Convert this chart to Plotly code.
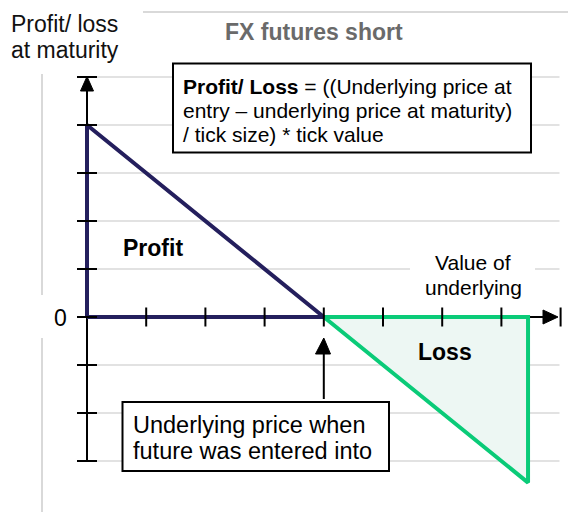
import plotly.graph_objects as go

# ---------------- data ----------------
underlying_ticks = [1, 2, 3, 4, 5, 6, 7, 8]
pl_ticks = [-3, -2, -1, 0, 1, 2, 3, 4, 5]
grid_levels = [-3, -2, -1, 1, 2, 3, 4, 5]
entry_price = 4
profit_x = [0, 0, 4, 0]
profit_y = [0, 4, 0, 0]
loss_x = [4, 7.45, 7.45, 4]
loss_y = [0, 0, -3.45, 0]
y_axis_min = -3

title_text = "FX futures short"
ylabel_lines = ["Profit/ loss", "at maturity"]
formula_lines = ["<b>Profit/ Loss</b> = ((Underlying price at",
                 "entry \u2013 underlying price at maturity)",
                 "/ tick size) * tick value"]
entry_lines = ["Underlying price when", "future was entered into"]
xlabel_lines = ["Value of", "underlying"]

# ---------------- layout helpers ----------------
W, H = 568, 512
X0_PX, Y0_PX = 87, 317
SX, SY = 59.2, 48.0


def dx(px):
    return (px - X0_PX) / SX


def dy(py):
    return (Y0_PX - py) / SY


FONT = "Liberation Sans, Arial, sans-serif"
NAVY = "#241F5D"
GREEN = "#0ACB78"
FILL = "#EDF7F3"
GRID = "#D9D9D9"

fig = go.Figure()

# gridlines
gx, gy = [], []
for g in grid_levels:
    gx += [dx(97), dx(559.5), None]
    gy += [g, g, None]
fig.add_trace(go.Scatter(x=gx, y=gy, mode="lines", line=dict(color=GRID, width=1.5),
                         hoverinfo="skip", showlegend=False))

# axis lines
fig.add_trace(go.Scatter(x=[0, 0], y=[y_axis_min, dy(80)], mode="lines",
                         line=dict(color="black", width=2), hoverinfo="skip", showlegend=False))
fig.add_trace(go.Scatter(x=[0, dx(548)], y=[0, 0], mode="lines",
                         line=dict(color="black", width=2), hoverinfo="skip", showlegend=False))

# loss area and profit outline
fig.add_trace(go.Scatter(x=loss_x, y=loss_y, mode="lines", fill="toself", fillcolor=FILL,
                         line=dict(color=GREEN, width=4), hoverinfo="skip", showlegend=False))
fig.add_trace(go.Scatter(x=profit_x, y=profit_y, mode="lines",
                         line=dict(color=NAVY, width=4), hoverinfo="skip", showlegend=False))

# ticks
tx, ty = [], []
for t in pl_ticks:
    tx += [dx(77), dx(97), None]
    ty += [t, t, None]
for t in underlying_ticks:
    tx += [t, t, None]
    ty += [dy(307.5), dy(326.5), None]
fig.add_trace(go.Scatter(x=tx, y=ty, mode="lines", line=dict(color="black", width=2),
                         hoverinfo="skip", showlegend=False))

# entry price arrow shaft
fig.add_trace(go.Scatter(x=[entry_price, entry_price], y=[dy(399), dy(352)], mode="lines",
                         line=dict(color="black", width=2), hoverinfo="skip", showlegend=False))

shapes = []


def tri(p1, p2, p3):
    return dict(type="path", xref="x", yref="y",
                path=f"M {p1[0]},{p1[1]} L {p2[0]},{p2[1]} L {p3[0]},{p3[1]} Z",
                fillcolor="black", line=dict(color="black", width=1), layer="above")


# arrow heads
shapes.append(tri((0, dy(76.5)), (dx(80.5), dy(91)), (dx(93.5), dy(91))))
shapes.append(tri((dx(558), 0), (dx(543), dy(310)), (dx(543), dy(324))))
shapes.append(tri((entry_price, dy(338)), (dx(315.5), dy(354)), (dx(330.5), dy(354))))

# boxes
shapes.append(dict(type="rect", xref="x", yref="y", x0=dx(173), x1=dx(531), y0=dy(63.5), y1=dy(152.5),
                   line=dict(color="black", width=2), fillcolor="white", layer="above"))
shapes.append(dict(type="rect", xref="x", yref="y", x0=dx(122.5), x1=dx(389), y0=dy(402), y1=dy(471),
                   line=dict(color="black", width=2), fillcolor="white", layer="above"))
# white patch behind "Value of underlying"
shapes.append(dict(type="rect", xref="x", yref="y", x0=dx(410), x1=dx(535), y0=dy(262), y1=dy(276),
                   line=dict(width=0), fillcolor="white", layer="above"))

# outer frame lines
shapes.append(dict(type="line", xref="paper", yref="paper", x0=143 / W, x1=1, y0=1 - 12 / H, y1=1 - 12 / H,
                   line=dict(color=GRID, width=2)))
shapes.append(dict(type="line", xref="paper", yref="paper", x0=42 / W, x1=42 / W, y0=1 - 74 / H, y1=1 - 295 / H,
                   line=dict(color=GRID, width=2)))
shapes.append(dict(type="line", xref="paper", yref="paper", x0=42 / W, x1=42 / W, y0=1 - 338 / H, y1=0,
                   line=dict(color=GRID, width=2)))

ann = []


def label(text, xpx, ypx, size, xanchor="center", bold=False, color="black"):
    ann.append(dict(text=f"<b>{text}</b>" if bold else text, x=dx(xpx), y=dy(ypx), xref="x", yref="y",
                    xanchor=xanchor, yanchor="middle", showarrow=False, borderpad=0,
                    font=dict(family=FONT, size=size, color=color)))


label(title_text, 313.5, 31.7, 23, bold=True, color="#6A6A6A")
label(ylabel_lines[0], 10, 24, 23, xanchor="left", color="#111")
label(ylabel_lines[1], 10, 50, 23, xanchor="left", color="#111")
for i, line in enumerate(formula_lines):
    label(line, 182, 86 + 24 * i, 21, xanchor="left")
for i, line in enumerate(entry_lines):
    label(line, 131.5, 425 + 26 * i, 23.5, xanchor="left")
label(xlabel_lines[0], 473, 262.5, 21)
label(xlabel_lines[1], 473, 287.5, 21)
label("0", 60, 317.5, 23)
label("Profit", 153, 247.5, 23, bold=True)
label("Loss", 445, 351.5, 23, bold=True)

fig.update_layout(
    width=W, height=H, autosize=False,
    margin=dict(l=0, r=0, t=0, b=0, pad=0),
    paper_bgcolor="white", plot_bgcolor="white",
    xaxis=dict(range=[dx(0), dx(W)], visible=False, fixedrange=True),
    yaxis=dict(range=[dy(H), dy(0)], visible=False, fixedrange=True),
    shapes=shapes, annotations=ann, showlegend=False,
)

fig.write_html("out.html", config={"displayModeBar": False},
               post_script="document.body.style.margin='0';document.body.style.padding='0';"
                           "document.body.style.overflow='hidden';")
